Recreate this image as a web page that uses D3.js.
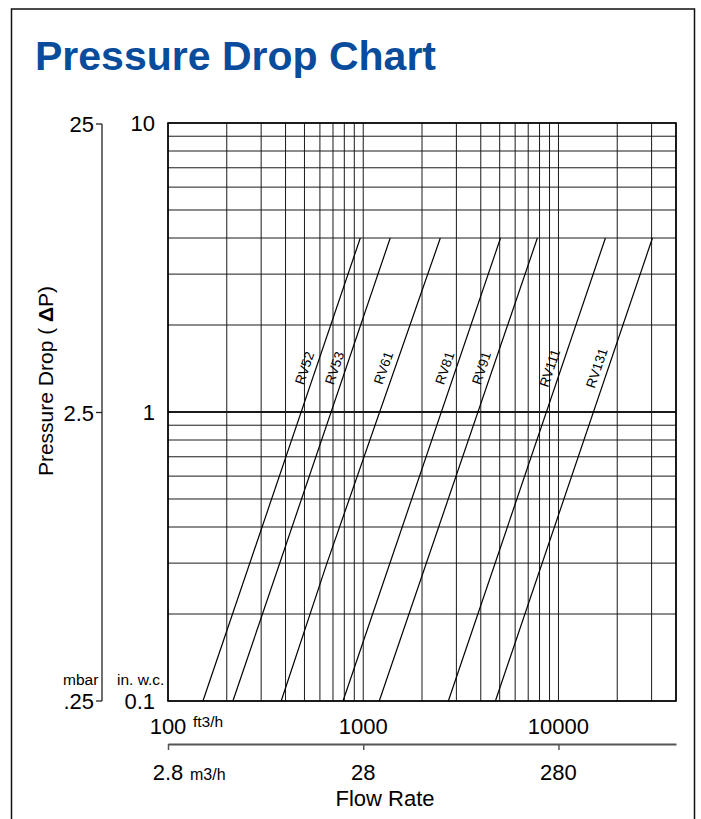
<!DOCTYPE html>
<html>
<head>
<meta charset="utf-8">
<script src="https://cdn.jsdelivr.net/npm/d3@7"></script>
<style>
  body { margin: 0; background: #fff; }
  svg { display: block; font-family: "Liberation Sans", Arial, Helvetica, sans-serif; }
  .grid line { stroke: #1a1a1a; stroke-width: 1; }
  .curve { fill: none; stroke: #000; stroke-width: 1.2; }
</style>
</head>
<body>
<div id="chart"></div>
<script>
  // flow in ft3/h, pressure drop in in. w.c.
  const seriesNames = ['RV52', 'RV53', 'RV61', 'RV81', 'RV91', 'RV111', 'RV131'];
  const rv52 = [[151, 0.1], [966, 4]];
  const rv53 = [[215, 0.1], [1375, 4]];
  const rv61 = [[380, 0.1], [652, 0.3], [2483, 4]];
  const rv81 = [[788, 0.1], [5050, 4]];
  const rv91 = [[1208, 0.1], [7800, 4]];
  const rv111 = [[2729, 0.1], [17400, 4]];
  const rv131 = [[4753, 0.1], [30300, 4]];
  const seriesValues = [rv52, rv53, rv61, rv81, rv91, rv111, rv131];

  const flowTicks = [100, 1000, 10000];
  const flowLabels = ['100', '1000', '10000'];
  const metricLabels = ['2.8', '28', '280'];
  const dpTicks = [0.1, 1, 10];
  const dpLabels = ['0.1', '1', '10'];
  const mbarTicks = [0.25, 2.5, 25];
  const mbarLabels = ['.25', '2.5', '25'];
  const labelDp = 1.38; // where the RV names sit along each line

  const width = 701, height = 819;
  const svg = d3.select('#chart').append('svg')
      .attr('width', width)
      .attr('height', height);

  // outer frame
  svg.append('rect')
      .attr('x', 11.5).attr('y', 9)
      .attr('width', 683).attr('height', 830)
      .attr('fill', 'none')
      .attr('stroke', '#111')
      .attr('stroke-width', 1.5);

  svg.append('text')
      .attr('x', 35).attr('y', 70)
      .attr('font-size', 41)
      .attr('font-weight', 'bold')
      .attr('fill', '#0a4c9c')
      .text('Pressure Drop Chart');

  const x = d3.scaleLog().domain([100, 40000]).range([168, 676]);
  const y = d3.scaleLog().domain([0.1, 10]).range([701, 123]);
  const yMbar = d3.scaleLog().domain([0.25, 25]).range([701, 124]);

  // grid
  const grid = svg.append('g').attr('class', 'grid');
  grid.selectAll('.v')
      .data(x.ticks())
      .enter().append('line')
      .attr('x1', d => x(d)).attr('x2', d => x(d))
      .attr('y1', y(10)).attr('y2', y(0.1));
  grid.selectAll('.h')
      .data(y.ticks())
      .enter().append('line')
      .attr('x1', x(100)).attr('x2', x(40000))
      .attr('y1', d => y(d)).attr('y2', d => y(d))
      .style('stroke-width', d => d === 1 ? 2.2 : 1);
  svg.append('rect')
      .attr('x', x(100)).attr('y', y(10))
      .attr('width', x(40000) - x(100))
      .attr('height', y(0.1) - y(10))
      .attr('fill', 'none')
      .attr('stroke', '#000')
      .attr('stroke-width', 1.6);

  // curves
  const line = d3.line().x(d => x(d[0])).y(d => y(d[1]));
  svg.append('g').selectAll('path')
      .data(seriesValues)
      .enter().append('path')
      .attr('class', 'curve')
      .attr('d', line);

  // curve names, rotated along each line
  svg.append('g').selectAll('text')
      .data(seriesValues)
      .enter().append('text')
      .attr('font-size', 13.5)
      .attr('text-anchor', 'middle')
      .attr('dy', '0.35em')
      .attr('transform', d => {
        let i = d.findIndex(p => p[1] >= labelDp);
        let a = d[i - 1], b = d[i];
        let t = (Math.log(labelDp) - Math.log(a[1])) / (Math.log(b[1]) - Math.log(a[1]));
        let f = Math.exp(Math.log(a[0]) + t * (Math.log(b[0]) - Math.log(a[0])));
        let px = x(f), py = y(labelDp);
        let ang = Math.atan2(y(b[1]) - y(a[1]), x(b[0]) - x(a[0]));
        let off = 11;
        let cx = px + off * Math.sin(ang), cy = py - off * Math.cos(ang);
        return 'translate(' + cx + ',' + cy + ') rotate(' + (ang * 180 / Math.PI) + ')';
      })
      .text((d, i) => seriesNames[i]);

  // left tick labels, in. w.c.
  svg.append('g').selectAll('text')
      .data(dpTicks)
      .enter().append('text')
      .attr('x', 155)
      .attr('y', d => y(d) + 8)
      .attr('text-anchor', 'end')
      .attr('font-size', 22)
      .text((d, i) => dpLabels[i]);

  // mbar scale
  const mbarAxis = svg.append('g');
  mbarAxis.append('line')
      .attr('x1', 102).attr('x2', 102)
      .attr('y1', yMbar(25)).attr('y2', yMbar(0.25))
      .attr('stroke', '#222').attr('stroke-width', 1.3);
  mbarAxis.selectAll('.tick')
      .data(mbarTicks)
      .enter().append('line')
      .attr('x1', 96).attr('x2', 102)
      .attr('y1', d => yMbar(d)).attr('y2', d => yMbar(d))
      .attr('stroke', '#222').attr('stroke-width', 1.3);
  mbarAxis.selectAll('text')
      .data(mbarTicks)
      .enter().append('text')
      .attr('x', 94)
      .attr('y', d => yMbar(d) + 8)
      .attr('text-anchor', 'end')
      .attr('font-size', 22)
      .text((d, i) => mbarLabels[i]);

  svg.append('text')
      .attr('x', 63).attr('y', 685)
      .attr('font-size', 15.5)
      .text('mbar');
  svg.append('text')
      .attr('x', 117).attr('y', 685)
      .attr('font-size', 15.5)
      .text('in. w.c.');

  svg.append('text')
      .attr('transform', 'translate(53,381) rotate(-90)')
      .attr('text-anchor', 'middle')
      .attr('font-size', 21)
      .html('Pressure Drop ( <tspan font-weight="bold">Δ</tspan>P)');

  // flow labels, ft3/h
  svg.append('g').selectAll('text')
      .data(flowTicks)
      .enter().append('text')
      .attr('x', d => x(d))
      .attr('y', 734)
      .attr('text-anchor', 'middle')
      .attr('font-size', 22)
      .text((d, i) => flowLabels[i]);
  svg.append('text')
      .attr('x', 193).attr('y', 727)
      .attr('font-size', 15.5)
      .text('ft3/h');

  // second flow axis, m3/h
  const metricAxis = svg.append('g')
      .attr('transform', 'translate(0,744)')
      .call(d3.axisBottom(x).tickValues(flowTicks).tickSize(6).tickSizeOuter(0).tickFormat(''));
  metricAxis.select('.domain').attr('stroke', '#555').attr('stroke-width', 2);
  metricAxis.selectAll('.tick line').attr('stroke', '#555').attr('stroke-width', 1.5);

  svg.append('g').selectAll('text')
      .data(flowTicks)
      .enter().append('text')
      .attr('x', d => x(d))
      .attr('y', 780)
      .attr('text-anchor', 'middle')
      .attr('font-size', 22)
      .text((d, i) => metricLabels[i]);
  svg.append('text')
      .attr('x', 190).attr('y', 780)
      .attr('font-size', 16)
      .text('m3/h');

  svg.append('text')
      .attr('x', 385).attr('y', 806)
      .attr('text-anchor', 'middle')
      .attr('font-size', 22)
      .text('Flow Rate');
</script>
</body>
</html>
